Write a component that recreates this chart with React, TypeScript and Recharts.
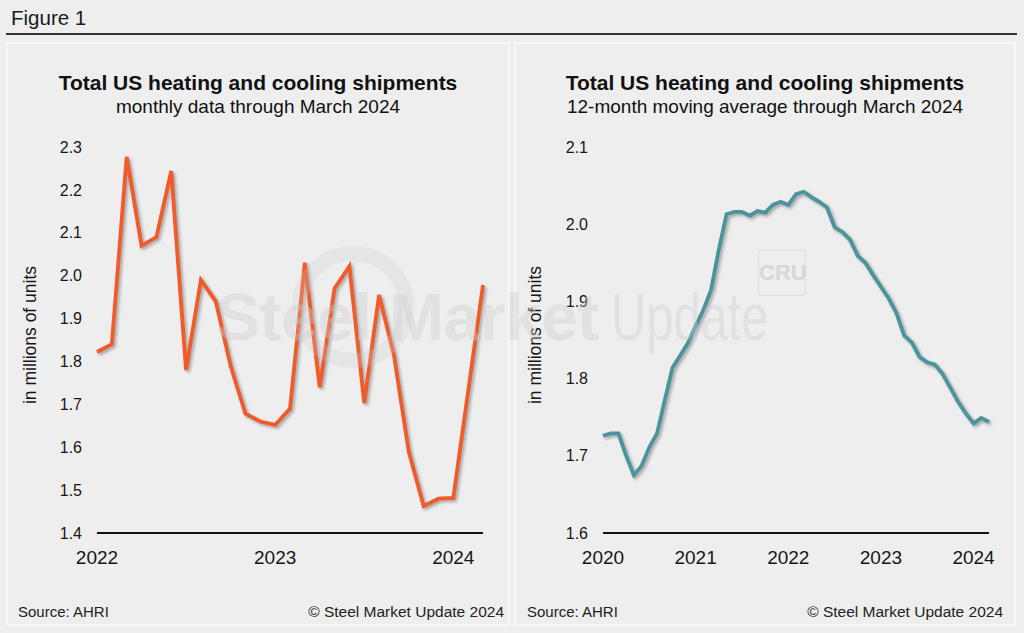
import { Line, LineChart, XAxis, YAxis } from "recharts"

// monthly shipments, Jan 2022 - Mar 2024 (millions of units)
const monthlyValues = [
    1.822, 1.84, 2.277, 2.07, 2.09, 2.244, 1.78, 1.99, 1.94, 1.79, 1.678, 1.66,
    1.652, 1.69, 2.03, 1.74, 1.97, 2.022, 1.703, 1.955, 1.815, 1.59, 1.463, 1.48,
    1.482, 1.73, 1.978,
]
const monthlyYears = ["2022", "2023", "2024"]
const monthlyTicks = [1.4, 1.5, 1.6, 1.7, 1.8, 1.9, 2.0, 2.1, 2.2, 2.3]

// 12-month moving average, Jan 2020 - Mar 2024
const averageValues = [
    1.726, 1.729, 1.729, 1.7, 1.675, 1.687, 1.711, 1.729, 1.772, 1.814, 1.83, 1.846,
    1.868, 1.889, 1.915, 1.967, 2.013, 2.016, 2.016, 2.011, 2.017, 2.015, 2.025, 2.029,
    2.025, 2.039, 2.042, 2.035, 2.029, 2.022, 1.996, 1.99, 1.98, 1.959, 1.95, 1.934,
    1.919, 1.904, 1.885, 1.856, 1.847, 1.828, 1.821, 1.818, 1.806, 1.788, 1.77, 1.755,
    1.742, 1.749, 1.744,
]
const averageYears = ["2020", "2021", "2022", "2023", "2024"]
const averageTicks = [1.6, 1.7, 1.8, 1.9, 2.0, 2.1]

const FONT = '"Liberation Sans", Arial, Helvetica, sans-serif'
const INK = "#161616"

const toRows = (values: number[]) => values.map((v, i) => ({ i, v }))

interface PanelChartProps {
    values: number[]
    years: string[]
    yTicks: number[]
    color: string
    left: number
    width: number
    marginLeft: number
    marginRight: number
}

function PanelChart({ values, years, yTicks, color, left, width, marginLeft, marginRight }: PanelChartProps) {
    const data = toRows(values)
    return (
        <div style={{ position: "absolute", left, top: 130 }}>
            <LineChart width={width} height={450} data={data} margin={{ top: 17, right: marginRight, bottom: 12, left: marginLeft }}>
                <XAxis
                    dataKey="i"
                    type="number"
                    domain={[0, values.length - 1]}
                    ticks={years.map((_, k) => k * 12)}
                    tickFormatter={(v) => years[Math.round(v / 12)]}
                    height={35}
                    axisLine={{ stroke: "#111", strokeWidth: 2 }}
                    tickLine={false}
                    tickSize={0}
                    tickMargin={18}
                    tick={{ fontSize: 19, fill: INK, fontFamily: FONT }}
                />
                <YAxis
                    type="number"
                    domain={[yTicks[0], yTicks[yTicks.length - 1]]}
                    ticks={yTicks}
                    tickFormatter={(v) => v.toFixed(1)}
                    width={60}
                    axisLine={false}
                    tickLine={false}
                    tickSize={0}
                    tickMargin={15}
                    tick={{ fontSize: 16, fill: INK, fontFamily: FONT }}
                />
                <Line
                    type="linear"
                    dataKey="v"
                    stroke={color}
                    strokeWidth={3.8}
                    dot={false}
                    activeDot={false}
                    isAnimationActive={false}
                />
            </LineChart>
        </div>
    )
}

function Titles({ center, sub }: { center: number; sub: string }) {
    return (
        <>
            <div style={{ position: "absolute", left: center - 250, width: 500, top: 72, textAlign: "center", fontSize: 21, lineHeight: "22px", fontWeight: 700, color: "#111" }}>
                Total US heating and cooling shipments
            </div>
            <div style={{ position: "absolute", left: center - 250, width: 500, top: 97, textAlign: "center", fontSize: 19, lineHeight: "20px", color: "#111" }}>
                {sub}
            </div>
        </>
    )
}

function YLabel({ cx }: { cx: number }) {
    return (
        <div style={{ position: "absolute", left: cx - 100, top: 325, width: 200, height: 20, lineHeight: "20px", textAlign: "center", fontSize: 17.5, color: INK, transform: "rotate(-90deg)" }}>
            in millions of units
        </div>
    )
}

function Footer({ left, right }: { left: number; right: number }) {
    return (
        <>
            <div style={{ position: "absolute", left, top: 603, fontSize: 15, lineHeight: "18px", color: "#222" }}>Source: AHRI</div>
            <div style={{ position: "absolute", left: right - 300, width: 300, top: 603, textAlign: "right", fontSize: 15.5, lineHeight: "18px", color: "#222" }}>
                © Steel Market Update 2024
            </div>
        </>
    )
}

export default function App() {
    return (
        <div style={{ position: "relative", width: 1024, height: 633, background: "#eeeeee", fontFamily: FONT, overflow: "hidden" }}>
            <style>{`body{margin:0}.recharts-line-curve{filter:drop-shadow(2px 2px 1.5px rgba(0,0,0,0.3))}`}</style>

            <div style={{ position: "absolute", left: 11, top: 7, fontSize: 20.5, lineHeight: "22px", color: "#1a1a1a" }}>Figure 1</div>
            <div style={{ position: "absolute", left: 6, top: 33, width: 1011, height: 1.5, background: "#333" }} />

            <div style={{ position: "absolute", left: 6, top: 42, width: 500, height: 580, border: "2px solid #f8f8f8" }} />
            <div style={{ position: "absolute", left: 514, top: 42, width: 498, height: 580, border: "2px solid #f8f8f8" }} />

            <Titles center={258} sub="monthly data through March 2024" />
            <Titles center={765} sub="12-month moving average through March 2024" />

            <PanelChart values={monthlyValues} years={monthlyYears} yTicks={monthlyTicks} color="#f15a29" left={0} width={510} marginLeft={37} marginRight={27} />
            <PanelChart values={averageValues} years={averageYears} yTicks={averageTicks} color="#4a949b" left={520} width={490} marginLeft={23} marginRight={21} />

            <YLabel cx={30} />
            <YLabel cx={535} />

            <Footer left={18} right={504} />
            <Footer left={527} right={1003} />

            {/* faint watermark on top */}
            <div style={{ position: "absolute", left: 0, top: 0, width: 1024, height: 633, pointerEvents: "none" }}>
                <div style={{ position: "absolute", left: 292, top: 246, width: 122, height: 122, borderRadius: "50%", border: "15px solid rgba(205,205,205,0.26)", boxSizing: "border-box" }} />
                <div style={{ position: "absolute", left: 216, top: 282, fontSize: 66, lineHeight: "70px", color: "rgba(205,205,205,0.38)", whiteSpace: "nowrap" }}>
                    <span style={{ fontWeight: 700, letterSpacing: -0.5 }}>Steel Market</span>
                    <span style={{ display: "inline-block", marginLeft: 12, fontWeight: 400, transform: "scaleX(0.74)", transformOrigin: "left center" }}>Update</span>
                </div>
                <div style={{ position: "absolute", left: 758, top: 250, width: 46, height: 44, border: "1px solid rgba(210,210,210,0.6)", borderRadius: 3, textAlign: "center", lineHeight: "44px", fontSize: 22, fontWeight: 700, color: "rgba(205,205,205,0.7)" }}>
                    CRU
                </div>
            </div>
        </div>
    )
}
